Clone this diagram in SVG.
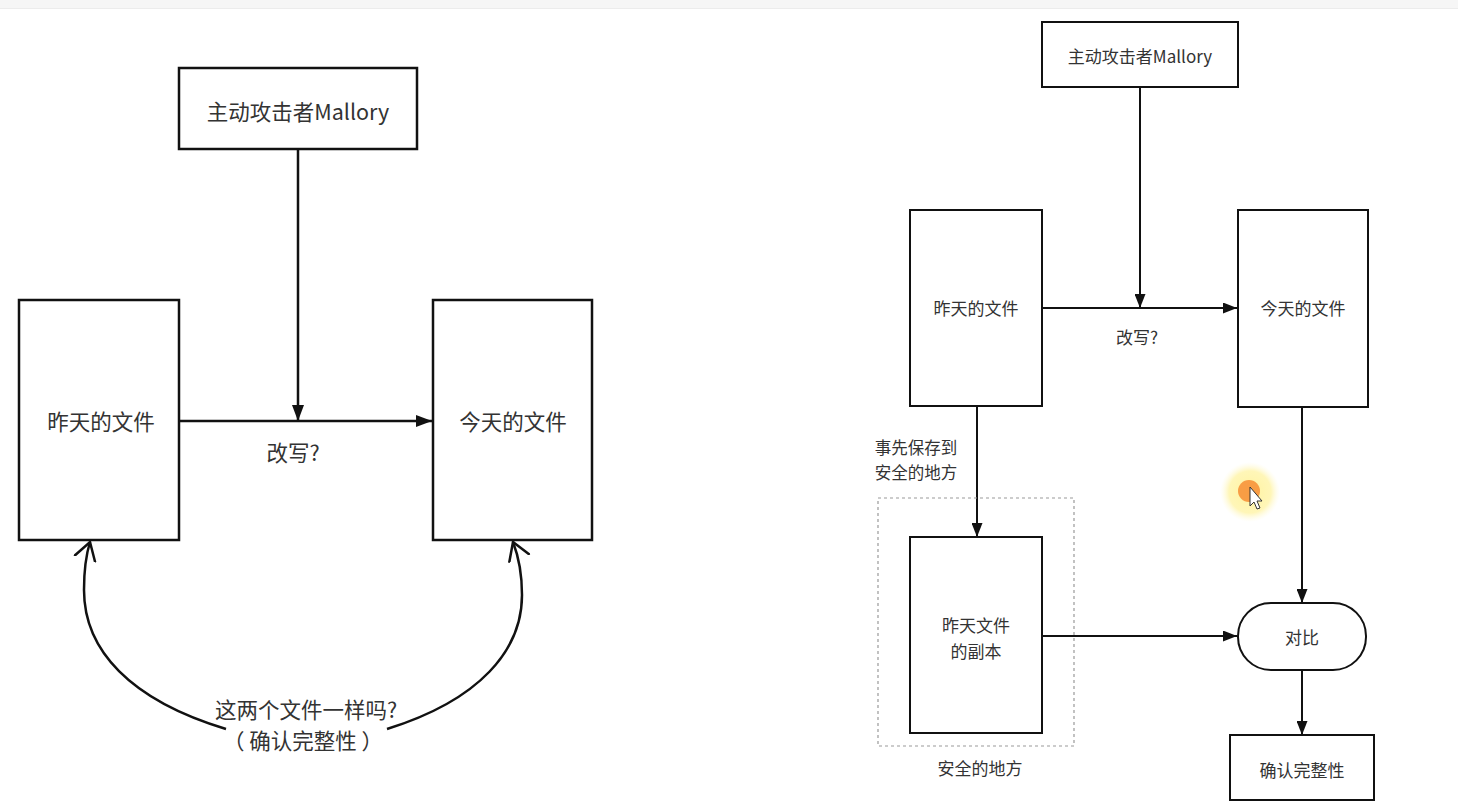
<svg xmlns="http://www.w3.org/2000/svg" width="1458" height="805" viewBox="0 0 1458 805">
<defs>
<style>
.box{fill:#fff;stroke:#111;stroke-width:2.5}
.boxs{fill:#fff;stroke:#111;stroke-width:2}
.ln{fill:none;stroke:#111;stroke-width:2.5}
.lns{fill:none;stroke:#111;stroke-width:2}
.t{font-family:"Noto Sans CJK SC","Noto Sans",sans-serif;fill:#333;text-anchor:middle;dominant-baseline:central}
.tl{font-size:21.5px}
.ts{font-size:17px}
.tn{font-size:16.5px}
</style>
<marker id="ah" viewBox="0 0 16 12" refX="16" refY="6" markerWidth="16" markerHeight="12" markerUnits="userSpaceOnUse" orient="auto">
<path d="M0,0 L16,6 L0,12 Z" fill="#111"/>
</marker>
<marker id="ahs" viewBox="0 0 14 11" refX="14" refY="5.5" markerWidth="14" markerHeight="11" markerUnits="userSpaceOnUse" orient="auto">
<path d="M0,0 L14,5.5 L0,11 Z" fill="#111"/>
</marker>
<marker id="av" viewBox="0 0 20 24" refX="18" refY="12" markerWidth="20" markerHeight="24" markerUnits="userSpaceOnUse" orient="auto">
<path d="M0,1 L18,12 L0,23" fill="none" stroke="#111" stroke-width="2.5"/>
</marker>
<radialGradient id="glow">
<stop offset="0" stop-color="#fff3a0"/>
<stop offset="0.7" stop-color="#fff6b8"/>
<stop offset="1" stop-color="#fffbe0" stop-opacity="0"/>
</radialGradient>
</defs>
<rect x="0" y="0" width="1458" height="805" fill="#fff"/>
<rect x="0" y="0" width="1458" height="8" fill="#f6f6f6"/>
<line x1="0" y1="8.5" x2="1458" y2="8.5" stroke="#ececec" stroke-width="1"/>

<g id="connectors">
<line class="ln" x1="298" y1="149" x2="298" y2="421" marker-end="url(#ah)"/>
<line class="ln" x1="179" y1="421" x2="432" y2="421" marker-end="url(#ah)"/>
<path class="ln" d="M226,729 C130,700 84,650 84,590 C84,570 86,555 90,542" marker-end="url(#av)"/>
<path class="ln" d="M387,729 C480,700 522,650 522,595 C522,570 518,555 513,542" marker-end="url(#av)"/>
<line class="lns" x1="1140" y1="87" x2="1140" y2="308" marker-end="url(#ahs)"/>
<line class="lns" x1="1042" y1="308" x2="1237" y2="308" marker-end="url(#ahs)"/>
<line class="lns" x1="977" y1="406" x2="977" y2="537" marker-end="url(#ahs)"/>
<line class="lns" x1="1042" y1="636" x2="1237" y2="636" marker-end="url(#ahs)"/>
<line class="lns" x1="1302" y1="407" x2="1302" y2="603" marker-end="url(#ahs)"/>
<line class="lns" x1="1302" y1="670" x2="1302" y2="735" marker-end="url(#ahs)"/>
</g>

<g id="labels">
<text class="t tl" x="293" y="451">改写?</text>
<text class="t tl" x="306" y="708">这两个文件一样吗?</text>
<text class="t tl" x="303" y="739">（ 确认完整性 ）</text>
<text class="t ts" x="1137" y="336">改写?</text>
<text class="t tn" x="916" y="447">事先保存到</text>
<text class="t tn" x="916" y="472">安全的地方</text>
<text class="t ts" x="980" y="767">安全的地方</text>
</g>

<g id="L-mallory">
<rect class="box" x="179" y="68" width="238" height="81"/>
<text class="t tl" x="298" y="110">主动攻击者Mallory</text>
</g>
<g id="L-yesterday">
<rect class="box" x="19" y="300" width="160" height="240"/>
<text class="t tl" x="101" y="420">昨天的文件</text>
</g>
<g id="L-today">
<rect class="box" x="433" y="300" width="159" height="240"/>
<text class="t tl" x="513" y="420">今天的文件</text>
</g>

<g id="R-mallory">
<rect class="boxs" x="1042" y="22" width="196" height="65"/>
<text class="t ts" x="1140" y="55">主动攻击者Mallory</text>
</g>
<g id="R-yesterday">
<rect class="boxs" x="910" y="210" width="132" height="196"/>
<text class="t ts" x="976" y="307">昨天的文件</text>
</g>
<g id="R-today">
<rect class="boxs" x="1238" y="210" width="130" height="197"/>
<text class="t ts" x="1303" y="307">今天的文件</text>
</g>
<g id="R-safe">
<rect x="878" y="498" width="196" height="248" fill="none" stroke="#999" stroke-width="1.2" stroke-dasharray="3,3"/>
</g>
<g id="R-copy">
<rect class="boxs" x="910" y="537" width="132" height="196"/>
<text class="t ts" x="976" y="624">昨天文件</text>
<text class="t ts" x="976" y="650">的副本</text>
</g>
<g id="R-compare">
<rect class="boxs" x="1238" y="603" width="128" height="67" rx="33" ry="33"/>
<text class="t ts" x="1302" y="636">对比</text>
</g>
<g id="R-confirm">
<rect class="boxs" x="1230" y="735" width="144" height="65"/>
<text class="t ts" x="1302" y="769">确认完整性</text>
</g>

<g id="cursor">
<circle cx="1250" cy="492" r="30" fill="url(#glow)"/>
<circle cx="1249" cy="491" r="11" fill="#f7943a" opacity="0.9"/>
<path d="M1250,487 L1250,506 L1254,502 L1257,509 L1260,508 L1257,501 L1262,501 Z" fill="#fff" stroke="#333" stroke-width="1"/>
</g>
</svg>
